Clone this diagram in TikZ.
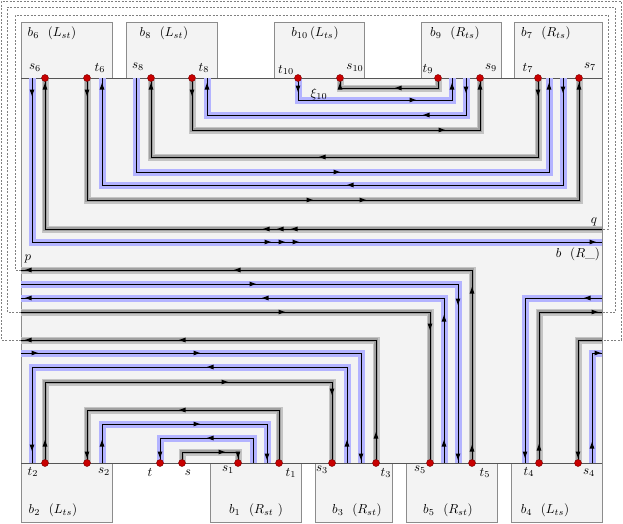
\documentclass[tikz,border=0pt]{standalone}
\usepackage{tikz}
\definecolor{regfill}{HTML}{F3F3F3}
\definecolor{bandblue}{HTML}{B3B3FF}
\definecolor{bandgrayA}{HTML}{C4C4C4}
\definecolor{bandgrayB}{HTML}{A0A0A0}
\definecolor{dotred}{HTML}{C80000}
\definecolor{boxline}{HTML}{8C8C8C}
\definecolor{edgeline}{HTML}{555555}
\newcommand\ArU[1]{\pic[rotate=90] at (#1) {ah};}
\newcommand\ArD[1]{\pic[rotate=-90] at (#1) {ah};}
\newcommand\ArL[1]{\pic[rotate=180] at (#1) {ah};}
\newcommand\ArR[1]{\pic at (#1) {ah};}
\newcommand\GP[1]{\draw[gbandA] #1; \draw[gbandB] #1; \draw[wire] #1;}
\newcommand\BP[1]{\draw[bband] #1; \draw[wire] #1;}
\begin{document}
\begin{tikzpicture}[x=1pt,y=-1pt,
 wire/.style={black, line width=0.8pt},
 gbandA/.style={bandgrayA, line width=7pt},
 gbandB/.style={bandgrayB, line width=3.2pt},
 bband/.style={bandblue, line width=7pt},
 dashln/.style={gray, line width=0.6pt, dash pattern=on 2pt off 1.5pt},
 boxst/.style={fill=regfill, draw=boxline, line width=0.8pt},
 dotst/.style={circle, fill=dotred, draw=dotred!60!black, line width=0.4pt, inner sep=0pt, minimum size=7pt},
 lbl/.style={scale=1.3, inner sep=0pt},
 ah/.pic={\fill[black] (3,0) -- (-3.5,2.4) -- (-3.5,-2.4) -- cycle;}]
\useasboundingbox (0,0) rectangle (623,523);
% coordinates: top dots
\coordinate (s6) at (45,78); \coordinate (t6) at (87,78);
\coordinate (s8) at (151,78); \coordinate (t8) at (192,78);
\coordinate (t10) at (298,78); \coordinate (s10) at (340,78);
\coordinate (t9) at (438,78); \coordinate (s9) at (480,78);
\coordinate (t7) at (538,78); \coordinate (s7) at (579,78);
% bottom dots
\coordinate (t2) at (45,463); \coordinate (s2) at (87,463);
\coordinate (t) at (160,463); \coordinate (s) at (182,463);
\coordinate (s1) at (238,463); \coordinate (t1) at (279,463);
\coordinate (s3) at (332,463); \coordinate (t3) at (376,463);
\coordinate (s5) at (430,463); \coordinate (t5) at (472,463);
\coordinate (t4) at (539,463); \coordinate (s4) at (578,463);
% free ends top
\coordinate (e1) at (32,78); \coordinate (e2) at (102,78);
\coordinate (e3) at (136,78); \coordinate (e4) at (207,78);
\coordinate (e5) at (452,78); \coordinate (e6) at (466,78);
\coordinate (e7) at (549,78); \coordinate (e8) at (563,78);
% free ends bottom
\coordinate (f1) at (32,463); \coordinate (f2) at (102,463);
\coordinate (f3) at (253,463); \coordinate (f4) at (267,463);
\coordinate (f5) at (347,463); \coordinate (f6) at (361,463);
\coordinate (f7) at (444,463); \coordinate (f8) at (458,463);
\coordinate (f9) at (525,463); \coordinate (f10) at (592,463);
% edge ends
\coordinate (qq) at (602,229); \coordinate (bb) at (602,242);
\coordinate (pp) at (21,270); \coordinate (w284) at (21,284);
\coordinate (w298) at (21,298); \coordinate (w312) at (21,312);
\coordinate (w340) at (21,340); \coordinate (w353) at (21,353);
\coordinate (r298) at (602,298); \coordinate (r312) at (602,312);
\coordinate (r340) at (602,340); \coordinate (r353) at (602,353);
% dashed frames
\draw[dashln] (pp) -- (15,270) -- (15,15) -- (608,15) -- (608,229) -- (qq);
\draw[dashln] (w312) -- (7,312) -- (7,7) -- (615,7) -- (615,312) -- (r312);
\draw[dashln] (w340) -- (1,340) -- (1,1) -- (621,1) -- (621,340) -- (r340);
% region and boxes
\fill[regfill] (21,78) rectangle (602,463);
\draw[boxst] (21,22) rectangle (112,78);
\draw[boxst] (126,22) rectangle (217,78);
\draw[boxst] (274,22) rectangle (364,78);
\draw[boxst] (421,22) rectangle (501,78);
\draw[boxst] (514,22) rectangle (602,78);
\draw[boxst] (21,463) rectangle (112,522);
\draw[boxst] (210,463) rectangle (301,522);
\draw[boxst] (315,463) rectangle (392,522);
\draw[boxst] (406,463) rectangle (497,522);
\draw[boxst] (511,463) rectangle (602,522);
\draw[boxline, line width=0.8pt] (21,78) -- (21,463) (602,78) -- (602,463);
\draw[edgeline, line width=0.8pt] (21,78) -- (602,78) (21,463) -- (602,463);
% top paths
\BP{(t10) -- (t10 |- 0,100) -| (e5)}
\GP{(t9) -- (t9 |- 0,88) -| (s10)}
\BP{(e6) -- (e6 |- 0,115) -| (e4)}
\GP{(t8) -- (t8 |- 0,130) -| (s9)}
\GP{(t7) -- (t7 |- 0,157) -| (s8)}
\BP{(e3) -- (e3 |- 0,172) -| (e7)}
\BP{(e8) -- (e8 |- 0,185) -| (e2)}
\GP{(t6) -- (t6 |- 0,200) -| (s7)}
\GP{(qq) -| (s6)}
\BP{(e1) |- (bb)}
% bottom paths
\GP{(t5) |- (pp)}
\BP{(w284) -| (f8)}
\BP{(f7) |- (w298)}
\GP{(w312) -| (s5)}
\GP{(t3) |- (w340)}
\BP{(w353) -| (f6)}
\BP{(f5) -- (f5 |- 0,367) -| (f1)}
\GP{(t2) -- (t2 |- 0,382) -| (s3)}
\GP{(t1) -- (t1 |- 0,410) -| (s2)}
\BP{(f2) -- (f2 |- 0,424) -| (f4)}
\BP{(f3) -- (f3 |- 0,438) -| (t)}
\GP{(s) -- (s |- 0,452) -| (s1)}
\BP{(r298) -| (f9)}
\GP{(t4) |- (r312)}
\GP{(r340) -| (s4)}
\BP{(f10) |- (r353)}
% arrows top
\ArD{298,89} \ArR{413,100} \ArU{452,86}
\ArL{398,88} \ArU{340,86}
\ArD{466,90} \ArL{426,115} \ArU{207,86}
\ArD{192,93} \ArR{442,130} \ArU{480,86}
\ArD{538,93} \ArL{322,157} \ArU{151,86}
\ArR{337,172} \ArU{549,86}
\ArD{563,90} \ArL{350,185} \ArU{102,86}
\ArD{87,93} \ArR{310,200} \ArR{363,200} \ArU{579,86}
\ArL{266,229} \ArL{280,229} \ArL{294,229} \ArU{45,86}
\ArD{32,93} \ArR{268,242} \ArR{282,242} \ArR{296,242} \ArR{593,242}
% arrows bottom
\ArU{472,448} \ArU{472,290} \ArL{237,270} \ArL{28,270}
\ArR{253,284} \ArD{458,302} \ArD{458,457}
\ArU{444,443} \ArU{444,318} \ArL{265,298} \ArL{28,298}
\ArR{282,312} \ArD{430,327}
\ArU{376,435} \ArL{182,340} \ArL{28,340}
\ArR{35,353} \ArR{197,353} \ArD{361,457}
\ArU{347,443} \ArL{210,367} \ArD{32,448}
\ArU{45,443} \ArR{225,382} \ArD{332,392}
\ArL{182,410} \ArD{87,455}
\ArU{102,443} \ArR{197,424} \ArD{267,457}
\ArL{210,438} \ArD{160,455}
\ArR{222,452} \ArD{238,455}
\ArL{587,298} \ArD{525,455}
\ArU{539,447} \ArR{595,312}
\ArD{578,455}
\ArU{592,445} \ArR{598,353}
% dots
\foreach \d in {s6,t6,s8,t8,t10,s10,t9,s9,t7,s7,t2,s2,t,s,s1,t1,s3,t3,s5,t5,t4,s4}
  \node[dotst] (d\d) at (\d) {};
% dot labels
\node[lbl] (ls6) at (35,68) {$s_6$};
\node[lbl] (lt6) at (100,68) {$t_6$};
\node[lbl] (ls8) at (138,67) {$s_8$};
\node[lbl] (lt8) at (204,68) {$t_8$};
\node[lbl] (lt10) at (286,70) {$t_{10}$};
\node[lbl] (ls10) at (355,68) {$s_{10}$};
\node[lbl] (lt9) at (428,69) {$t_9$};
\node[lbl] (ls9) at (491,68) {$s_9$};
\node[lbl] (lt7) at (528,68) {$t_7$};
\node[lbl] (ls7) at (590,67) {$s_7$};
\node[lbl] (lt2) at (33,472) {$t_2$};
\node[lbl] (ls2) at (104,472) {$s_2$};
\node[lbl] (ltt) at (150,472) {$t$};
\node[lbl] (lss) at (188,473) {$s$};
\node[lbl] (ls1) at (228,470) {$s_1$};
\node[lbl] (lt1) at (291,473) {$t_1$};
\node[lbl] (ls3) at (322,470) {$s_3$};
\node[lbl] (lt3) at (386,473) {$t_3$};
\node[lbl] (ls5) at (420,470) {$s_5$};
\node[lbl] (lt5) at (485,473) {$t_5$};
\node[lbl] (lt4) at (529,472) {$t_4$};
\node[lbl] (ls4) at (589,473) {$s_4$};
% box labels
\node[lbl] (nb6) at (52,33) {$b_6\ \ (L_{st})$};
\node[lbl] (nb8) at (164,33) {$b_8\ \ (L_{st})$};
\node[lbl] (nb10) at (315,33) {$b_{10}\,(L_{ts})$};
\node[lbl] (nb9) at (455,33) {$b_9\ \ (R_{ts})$};
\node[lbl] (nb7) at (546,33) {$b_7\ \ (R_{ts})$};
\node[lbl] (nb2) at (53,510) {$b_2\ \ (L_{ts})$};
\node[lbl] (nb1) at (256,510) {$b_1\ \ (R_{st}\ )$};
\node[lbl] (nb3) at (357,510) {$b_3\ \ (R_{st})$};
\node[lbl] (nb5) at (448,510) {$b_5\ \ (R_{st})$};
\node[lbl] (nb4) at (545,510) {$b_4\ \ (L_{ts})$};
% other labels
\node[lbl] (lp) at (28,259) {$p$};
\node[lbl] (lq) at (594,222) {$q$};
\node[lbl] (lb) at (578,254) {$b\ \ (R\_)$};
\node[lbl] (lxi) at (319,94) {$\xi_{10}$};
\end{tikzpicture}
\end{document}
